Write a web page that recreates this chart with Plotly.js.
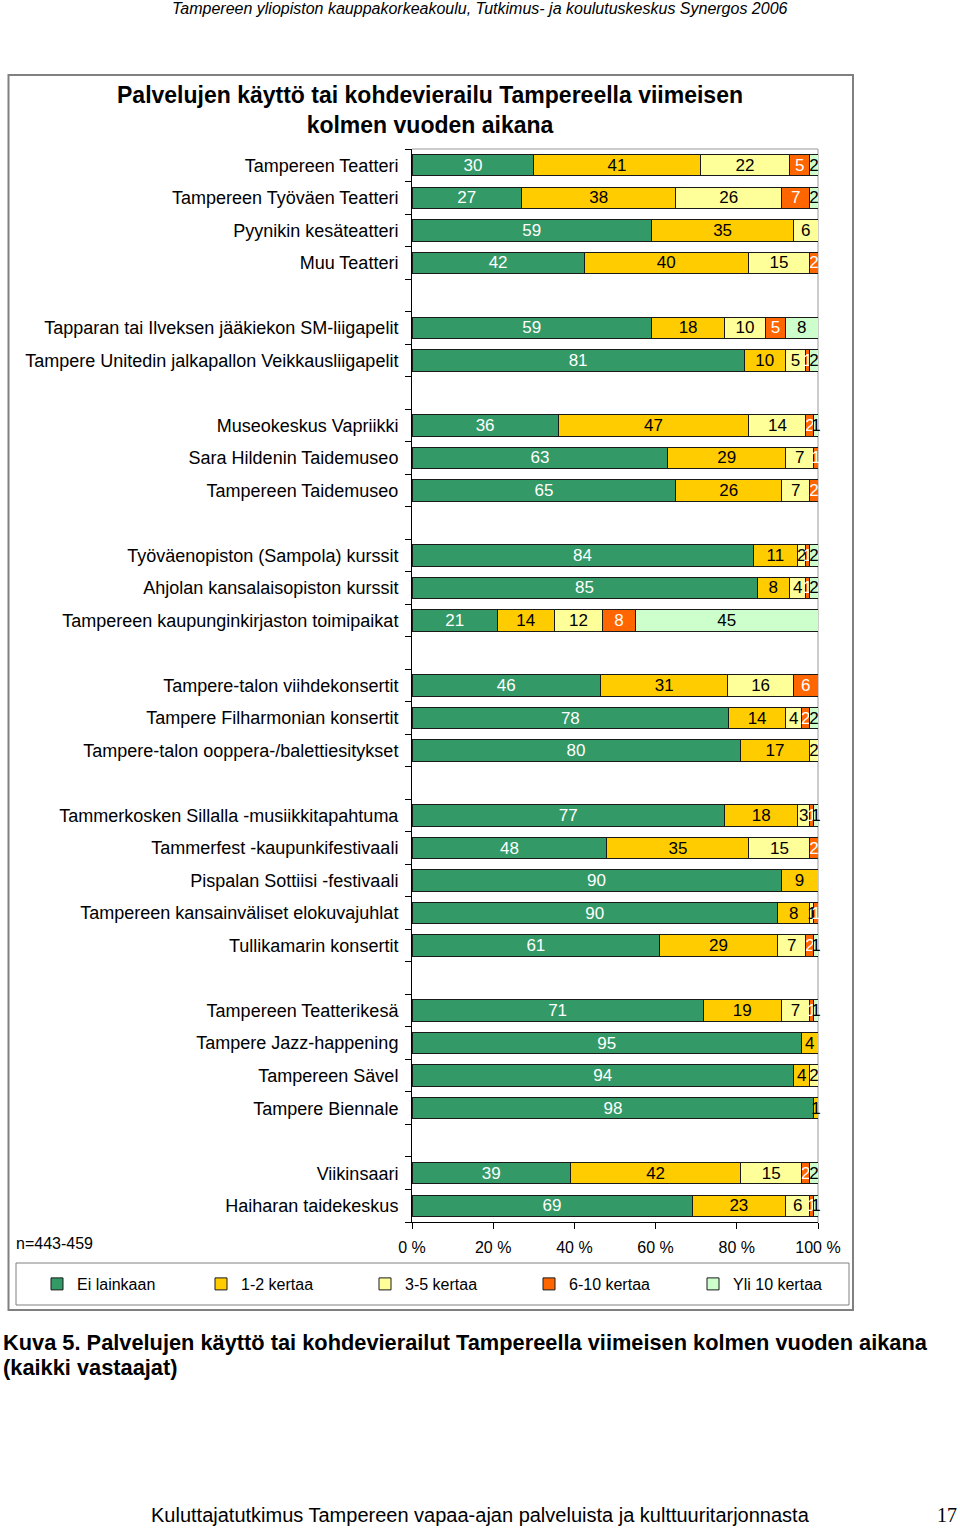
<!DOCTYPE html>
<html><head><meta charset="utf-8">
<script src="https://cdn.plot.ly/plotly-3.0.1.min.js"></script>
<style>html,body{margin:0;padding:0;background:#fff}#chart{width:960px;height:1528px}</style>
</head><body><div id="chart"></div>
<script>
// ---- data ----
const categories = [
  'Tampereen Teatteri','Tampereen Työväen Teatteri','Pyynikin kesäteatteri','Muu Teatteri',
  'Tapparan tai Ilveksen jääkiekon SM-liigapelit','Tampere Unitedin jalkapallon Veikkausliigapelit',
  'Museokeskus Vapriikki','Sara Hildenin Taidemuseo','Tampereen Taidemuseo',
  'Työväenopiston (Sampola) kurssit','Ahjolan kansalaisopiston kurssit','Tampereen kaupunginkirjaston toimipaikat',
  'Tampere-talon viihdekonsertit','Tampere Filharmonian konsertit','Tampere-talon ooppera-/balettiesitykset',
  'Tammerkosken Sillalla -musiikkitapahtuma','Tammerfest -kaupunkifestivaali','Pispalan Sottiisi -festivaali',
  'Tampereen kansainväliset elokuvajuhlat','Tullikamarin konsertit',
  'Tampereen Teatterikesä','Tampere Jazz-happening','Tampereen Sävel','Tampere Biennale',
  'Viikinsaari','Haiharan taidekeskus'
];
const groupSizes = [4, 2, 3, 3, 3, 5, 4, 2];
const eiLainkaan = [30,27,59,42, 59,81, 36,63,65, 84,85,21, 46,78,80, 77,48,90,90,61, 71,95,94,98, 39,69];
const kertaa1_2  = [41,38,35,40, 18,10, 47,29,26, 11,8,14, 31,14,17, 18,35,9,8,29, 19,4,4,1, 42,23];
const kertaa3_5  = [22,26,6,15, 10,5, 14,7,7, 2,4,12, 16,4,2, 3,15,null,1,7, 7,null,2,0, 15,6];
const kertaa6_10 = [5,7,null,2, 5,1, 2,1,2, 1,1,8, 6,2,null, 1,2,null,1,2, 1,null,null,0, 2,1];
const yli10      = [2,2,null,null, 8,2, 1,null,null, 2,2,45, null,2,null, 1,null,null,null,1, 1,null,null,null, 2,1];
const seriesNames = ['Ei lainkaan','1-2 kertaa','3-5 kertaa','6-10 kertaa','Yli 10 kertaa'];
const seriesColors = ['#339966','#FFCC00','#FFFF99','#FF6600','#CCFFCC'];
const labelColors = ['#ffffff','#000000','#000000','#ffffff','#000000'];
const xTickVals = [0,20,40,60,80,100];
const xTickText = xTickVals.map(v => v + ' %');
const sampleNote = 'n=443-459';

// ---- slot positions (groups separated by an empty row) ----
const slots = [];
let s = 0;
groupSizes.forEach(g => { for (let i = 0; i < g; i++) slots.push(s++); s++; });
const nSlots = s - 1;
const boundaries = [];
for (let b = -0.5; b <= nSlots - 0.5 + 0.01; b += 1) boundaries.push(b);

const FONT = 'Liberation Sans, Arial, sans-serif';
const seriesValues = [eiLainkaan, kertaa1_2, kertaa3_5, kertaa6_10, yli10];
const traces = seriesValues.map((vals, k) => ({
  type: 'bar', orientation: 'h', name: seriesNames[k],
  x: vals, y: slots,
  text: vals.map(v => v == null ? '' : String(v)),
  texttemplate: '%{text}', textposition: 'inside', insidetextanchor: 'middle',
  constraintext: 'none', textangle: 0, cliponaxis: false,
  textfont: {family: FONT, size: 17, color: labelColors[k]},
  marker: {color: seriesColors[k], line: {color: '#1a1a1a', width: 1}},
  width: 0.66, hoverinfo: 'skip'
}));

// pixel helpers for decorations
const L = 412, R = 818, T = 149, B = 1222;
const px = v => (v - L) / (R - L);
const py = v => (B - v) / (B - T);

const layout = {
  width: 960, height: 1528,
  margin: {l: L, r: 960 - R, t: T, b: 1528 - B, pad: 0},
  paper_bgcolor: '#fff', plot_bgcolor: '#fff',
  barmode: 'stack', barnorm: 'percent', bargap: 0,
  font: {family: FONT, color: '#000'},
  showlegend: true,
  legend: {orientation: 'h', traceorder: 'normal',
           x: px(37), xanchor: 'left', y: py(1284), yanchor: 'middle',
           entrywidth: 119, font: {family: FONT, size: 16, color: '#000'}, bgcolor: 'rgba(0,0,0,0)', borderwidth: 0},
  title: {text: 'Palvelujen käyttö tai kohdevierailu Tampereella viimeisen<br>kolmen vuoden aikana',
          font: {family: FONT, size: 23, weight: 'bold', color: '#000'},
          xref: 'container', x: 430 / 960, xanchor: 'center', yref: 'container', y: 1 - 103 / 1528, yanchor: 'top'},
  xaxis: {range: [0, 100.0001], tickmode: 'array', tickvals: xTickVals, ticktext: xTickText,
          ticks: 'outside', ticklen: 6, tickcolor: '#000', showline: true, linecolor: '#000', linewidth: 1,
          showgrid: false, zeroline: false, fixedrange: true, ticklabelstandoff: 5,
          tickfont: {family: FONT, size: 16, color: '#000'}},
  yaxis: {range: [nSlots - 0.5, -0.5], tickmode: 'array', tickvals: slots, ticktext: categories,
          ticks: '', showline: true, linecolor: '#000', linewidth: 1, showgrid: false, zeroline: false,
          ticklabelstandoff: 9, fixedrange: true,
          tickfont: {family: FONT, size: 18, color: '#000'},
          minor: {tickmode: 'array', tickvals: boundaries, ticks: 'outside', ticklen: 6, tickwidth: 1, tickcolor: '#000', showgrid: false}},
  yaxis2: {overlaying: 'y', anchor: 'x', side: 'left', range: [nSlots - 0.5, -0.5], tickmode: 'array', tickvals: boundaries,
           ticks: 'inside', ticklen: 5, tickwidth: 1, tickcolor: '#000', showticklabels: false,
           showline: false, showgrid: false, zeroline: false, fixedrange: true},
  shapes: [
    {type: 'rect', xref: 'paper', yref: 'paper', x0: px(8.5), x1: px(853), y0: py(75), y1: py(1310),
     line: {color: '#808080', width: 2}, layer: 'below'},
    {type: 'rect', xref: 'paper', yref: 'paper', x0: px(16), x1: px(849), y0: py(1263), y1: py(1305),
     line: {color: '#808080', width: 1}, layer: 'below'},
    {type: 'line', xref: 'paper', yref: 'paper', x0: 0, x1: 1, y0: 1, y1: 1, line: {color: '#999', width: 1}, layer: 'below'},
    {type: 'line', xref: 'paper', yref: 'paper', x0: 1, x1: 1, y0: 0, y1: 1, line: {color: '#999', width: 1}, layer: 'below'}
  ],
  annotations: [
    {text: 'Tampereen yliopiston kauppakorkeakoulu, Tutkimus- ja koulutuskeskus Synergos 2006', xref: 'paper', yref: 'paper',
     x: px(480), y: py(8), xanchor: 'center', yanchor: 'middle', showarrow: false,
     font: {family: FONT, size: 16, style: 'italic', color: '#000'}},
    {text: sampleNote, xref: 'paper', yref: 'paper', x: px(14), y: py(1243), xanchor: 'left', yanchor: 'middle', showarrow: false,
     font: {family: FONT, size: 16, color: '#000'}},
    {text: 'Kuva 5. Palvelujen käyttö tai kohdevierailut Tampereella viimeisen kolmen vuoden aikana',
     xref: 'paper', yref: 'paper', x: px(1), y: py(1342), xanchor: 'left', yanchor: 'middle', showarrow: false,
     font: {family: FONT, size: 21.8, weight: 'bold', color: '#000'}},
    {text: '(kaikki vastaajat)',
     xref: 'paper', yref: 'paper', x: px(1), y: py(1367), xanchor: 'left', yanchor: 'middle', showarrow: false,
     font: {family: FONT, size: 21.8, weight: 'bold', color: '#000'}},
    {text: 'Kuluttajatutkimus Tampereen vapaa-ajan palveluista ja kulttuuritarjonnasta', xref: 'paper', yref: 'paper',
     x: px(480), y: py(1515), xanchor: 'center', yanchor: 'middle', showarrow: false,
     font: {family: FONT, size: 20, color: '#000'}},
    {text: '17', xref: 'paper', yref: 'paper', x: px(959), y: py(1515), xanchor: 'right', yanchor: 'middle', showarrow: false,
     font: {family: 'Liberation Serif, Times New Roman, serif', size: 20, color: '#000'}}
  ]
};

Plotly.newPlot('chart', traces, layout, {displayModeBar: false, staticPlot: true});
</script>
</body></html>
